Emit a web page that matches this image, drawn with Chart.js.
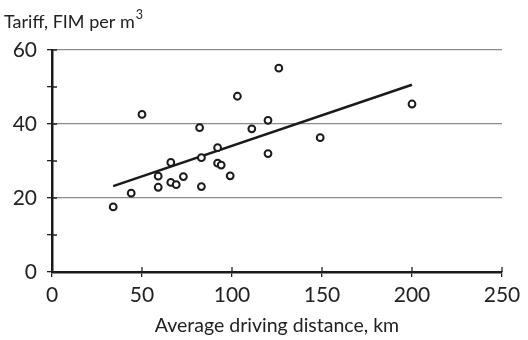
<!DOCTYPE html>
<html>
<head>
<meta charset="utf-8">
<script src="https://cdn.jsdelivr.net/npm/chart.js@4"></script>
<style>
html,body{margin:0;padding:0;background:#fff;}
#wrap{width:528px;height:340px;}
</style>
</head>
<body>
<div id="wrap"><canvas id="c" width="528" height="340"></canvas></div>
<script>
const distanceKm = [34, 44, 50, 59, 59, 66, 66, 69, 73, 82, 83, 83, 92, 92, 94, 99, 103, 111, 120, 120, 126, 149, 200];
const tariffFim  = [17.6, 21.3, 42.6, 25.9, 22.9, 29.6, 24.2, 23.6, 25.8, 39.0, 30.9, 23.1, 33.6, 29.4, 28.9, 26.0, 47.5, 38.7, 41.0, 32.0, 55.1, 36.3, 45.4];
const trendX = [34, 200];
const trendY = [23.2, 50.6];
const xTicks = [0, 50, 100, 150, 200, 250];
const yTicks = [0, 10, 20, 30, 40, 50, 60];
const yLabelled = [0, 20, 40, 60];
const xTitle = 'Average driving distance, km';
const yTitleMain = 'Tariff, FIM per m';
const yTitleSup = '3';

const FONT = 'Lato, "Open Sans", sans-serif';

const innerTicks = {
  id: 'innerTicks',
  afterDatasetsDraw(chart) {
    const ctx = chart.ctx;
    const x = chart.scales.x, y = chart.scales.y;
    ctx.save();
    ctx.strokeStyle = '#222';
    ctx.lineWidth = 1.3;
    ctx.beginPath();
    xTicks.forEach(v => {
      const px = x.getPixelForValue(v);
      ctx.moveTo(px, y.bottom);
      ctx.lineTo(px, y.bottom - 5);
    });
    yTicks.forEach(v => {
      const py = y.getPixelForValue(v);
      ctx.moveTo(x.left, py);
      ctx.lineTo(x.left + 5, py);
    });
    ctx.stroke();
    // y axis title at top-left
    ctx.fillStyle = '#222';
    ctx.textBaseline = 'alphabetic';
    ctx.textAlign = 'left';
    ctx.font = '18px ' + FONT;
    ctx.fillText(yTitleMain, 4, 28);
    const w = ctx.measureText(yTitleMain).width;
    ctx.font = '12.5px ' + FONT;
    ctx.fillText(yTitleSup, 4 + w + 1, 19);
    ctx.restore();
  }
};

new Chart(document.getElementById('c'), {
  type: 'scatter',
  data: {
    datasets: [
      {
        data: trendX.map((v, i) => ({x: v, y: trendY[i]})),
        showLine: true,
        borderColor: '#1a1a1a',
        borderWidth: 2.5,
        pointRadius: 0,
        order: 2
      },
      {
        data: distanceKm.map((v, i) => ({x: v, y: tariffFim[i]})),
        pointStyle: 'circle',
        pointRadius: 3.4,
        pointBorderWidth: 2,
        borderColor: '#1a1a1a',
        backgroundColor: '#fff',
        order: 1
      }
    ]
  },
  plugins: [innerTicks],
  options: {
    responsive: false,
    animation: false,
    devicePixelRatio: 1,
    layout: {padding: {left: 0, right: 26, top: 50, bottom: 0}},
    plugins: {
      legend: {display: false},
      tooltip: {enabled: false},
      title: {display: false}
    },
    scales: {
      x: {
        type: 'linear',
        min: 0, max: 250,
        afterBuildTicks: s => { s.ticks = xTicks.map(v => ({value: v})); },
        afterFit: s => { s.height = 68; },
        border: {display: true, color: '#1a1a1a', width: 2.5},
        grid: {drawOnChartArea: false, drawTicks: true, tickLength: 5, tickColor: '#222', lineWidth: 1.3},
        ticks: {color: '#222', font: {family: FONT, size: 21}, padding: 6, maxRotation: 0},
        title: {display: true, text: xTitle, color: '#222', font: {family: FONT, size: 19.5}, padding: {top: 0, bottom: 3}}
      },
      y: {
        type: 'linear',
        min: 0, max: 60,
        afterBuildTicks: s => { s.ticks = yTicks.map(v => ({value: v})); },
        afterFit: s => { s.width = 52; },
        border: {display: true, color: '#1a1a1a', width: 2.5},
        grid: {
          drawOnChartArea: true,
          drawTicks: true,
          tickLength: 5,
          tickColor: '#222',
          color: c => (c.tick && yLabelled.includes(c.tick.value) && c.tick.value !== 0) ? '#8a8a8a' : 'rgba(0,0,0,0)',
          lineWidth: 1.3
        },
        ticks: {
          color: '#222',
          font: {family: FONT, size: 21},
          padding: 10,
          callback: v => yLabelled.includes(v) ? String(v) : ''
        }
      }
    }
  }
});
</script>
</body>
</html>
